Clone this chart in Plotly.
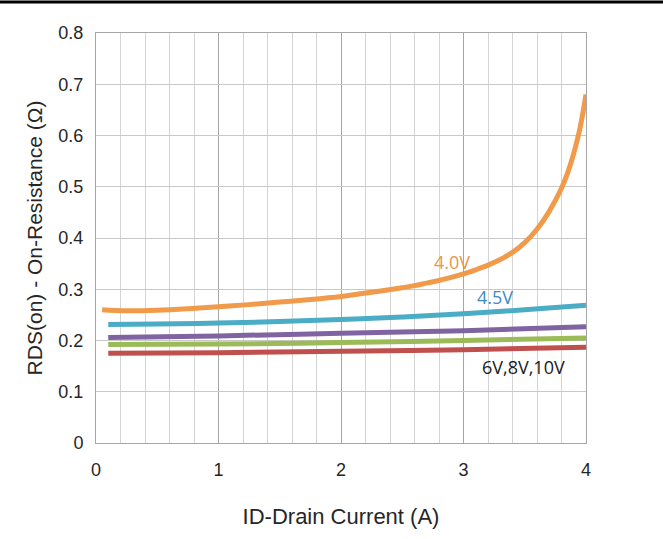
import plotly.graph_objects as go

# Data
x_40 = [0.05, 0.25, 0.5, 0.75, 1.0, 1.25, 1.5, 1.75, 2.0, 2.25, 2.5, 2.6, 2.7, 2.8, 2.9, 3.0, 3.1, 3.2, 3.3, 3.4, 3.5, 3.6, 3.7, 3.8, 3.85, 3.9, 3.95, 4.0]
y_40 = [0.260, 0.258, 0.259, 0.262, 0.266, 0.270, 0.275, 0.280, 0.286, 0.294, 0.303, 0.307, 0.312, 0.317, 0.323, 0.330, 0.338, 0.347, 0.358, 0.372, 0.391, 0.417, 0.452, 0.497, 0.527, 0.565, 0.613, 0.680]

x_45 = [0.1, 0.5, 1.0, 1.5, 2.0, 2.5, 3.0, 3.5, 4.0]
y_45 = [0.231, 0.232, 0.234, 0.237, 0.241, 0.246, 0.252, 0.260, 0.269]

x_low = [0.1, 1.0, 2.0, 3.0, 4.0]
y_purple = [0.206, 0.209, 0.214, 0.219, 0.227]
y_green = [0.192, 0.193, 0.196, 0.200, 0.205]
y_red = [0.175, 0.176, 0.179, 0.182, 0.187]

series = [
    ("6V-red", x_low, y_red, "#C0504D"),
    ("green", x_low, y_green, "#9BBB59"),
    ("purple", x_low, y_purple, "#8064A2"),
    ("4.5V", x_45, y_45, "#4BACC6"),
    ("4.0V", x_40, y_40, "#F09A4A"),
]

x_ticks = [0, 1, 2, 3, 4]
y_ticks = [0, 0.1, 0.2, 0.3, 0.4, 0.5, 0.6, 0.7, 0.8]
y_tick_text = ["0", "0.1", "0.2", "0.3", "0.4", "0.5", "0.6", "0.7", "0.8"]

fig = go.Figure()
for name, xs, ys, col in series:
    fig.add_trace(go.Scatter(x=xs, y=ys, mode="lines", name=name,
                             line=dict(color=col, width=5, shape="spline", smoothing=1.0),
                             showlegend=False, hoverinfo="skip"))

fig.update_layout(
    width=663, height=539,
    margin=dict(l=96, r=77, t=33, b=96),
    paper_bgcolor="white", plot_bgcolor="white",
    font=dict(family="Liberation Sans, Arial, sans-serif", color="#262626"),
    xaxis=dict(range=[0, 4], tickvals=x_ticks, ticktext=[str(v) for v in x_ticks],
               showgrid=True, gridcolor="#A6A6A6", gridwidth=1,
               minor=dict(dtick=0.2, showgrid=True, gridcolor="#D4D4D4", gridwidth=1),
               showline=True, linecolor="#A6A6A6", linewidth=1, mirror=True,
               ticks="", tickfont=dict(size=18), zeroline=False, ticklabelstandoff=10,
               title=dict(text="ID-Drain Current (A)", font=dict(size=22), standoff=30)),
    yaxis=dict(range=[0, 0.8], tickvals=y_ticks, ticktext=y_tick_text,
               showgrid=True, gridcolor="#C8C8C8", gridwidth=1,
               showline=True, linecolor="#A6A6A6", linewidth=1, mirror=True,
               ticks="", tickfont=dict(size=18), zeroline=False, ticklabelstandoff=8,
               title=dict(text="RDS(on) - On-Resistance (Ω)", font=dict(size=21), standoff=10)),
)

fig.add_annotation(x=2.91, y=0.353, text="4.0V", showarrow=False,
                   font=dict(family="Open Sans, sans-serif", size=18, color="#E8964A"))
fig.add_annotation(x=3.26, y=0.285, text="4.5V", showarrow=False,
                   font=dict(family="Open Sans, sans-serif", size=18, color="#3D8CC4"))
fig.add_annotation(x=3.49, y=0.149, text="6V,8V,10V", showarrow=False,
                   font=dict(family="Open Sans, sans-serif", size=18, color="#1A1A1A"))

# thick black rule along the top of the page
fig.add_shape(type="line", xref="paper", yref="paper",
              x0=-96 / 490, x1=(663 - 96) / 490, y0=1 + 31 / 410, y1=1 + 31 / 410,
              line=dict(color="black", width=3))

fig.write_html("out.html")
